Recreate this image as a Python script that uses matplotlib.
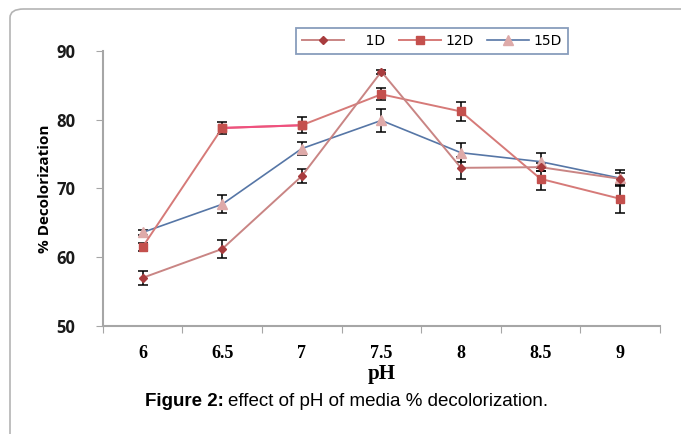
import numpy as np
import matplotlib
matplotlib.use('Agg')
import matplotlib.pyplot as plt
from matplotlib.lines import Line2D
from matplotlib.patches import FancyBboxPatch

# data
ph_labels = ['6', '6.5', '7', '7.5', '8', '8.5', '9']
d1 = [57.0, 61.2, 71.8, 87.0, 73.0, 73.1, 71.4]
d1_err = [1.0, 1.3, 1.0, 0.3, 1.6, 0.6, 0.8]
d12 = [61.5, 78.8, 79.2, 83.7, 81.2, 71.4, 68.5]
d12_err = [0.6, 0.9, 1.2, 0.9, 1.4, 1.6, 2.0]
d15 = [63.6, 67.7, 75.8, 79.9, 75.2, 73.9, 71.5]
d15_err = [0.3, 1.3, 0.9, 1.7, 1.4, 1.3, 1.2]

x = np.arange(len(ph_labels))

fig = plt.figure(figsize=(6.81, 4.34), dpi=100)
ax = fig.add_axes([0.151, 0.249, 0.818, 0.6335])

# outer frame (rounded, runs off right/bottom)
frame = FancyBboxPatch((10/681, 1-(434+30)/434), 700/681, (434+30-9)/434,
                       boxstyle='round,pad=0,rounding_size=0.02',
                       transform=fig.transFigure, fill=False,
                       edgecolor='#b4b4b4', lw=1.2, clip_on=False)
fig.patches.append(frame)

ekw = dict(ecolor='black', elinewidth=1.1, capsize=3.5, capthick=1.1, zorder=2)
ax.errorbar(x, d12, yerr=d12_err, fmt='none', **ekw)
ax.errorbar(x, d15, yerr=d15_err, fmt='none', **ekw)
ax.errorbar(x, d1, yerr=d1_err, fmt='none', **ekw)

ax.plot(x, d15, color='#5676a6', lw=1.2, marker='^', ms=6.5,
        mfc='#deaaa9', mec='#deaaa9', zorder=3)
ax.plot(x, d12, color='#d67a78', lw=1.4, marker='s', ms=5.8,
        mfc='#c4504d', mec='#c4504d', zorder=3)
ax.plot(x[1:3], d12[1:3], color='#f0507f', lw=1.5, zorder=3.1)
ax.plot(x[1:3], d12[1:3], ls='none', marker='s', ms=5.8,
        mfc='#c4504d', mec='#c4504d', zorder=3.2)
ax.plot(x, d1, color='#c98584', lw=1.4, marker='D', ms=4.2,
        mfc='#a83c3e', mec='#a83c3e', zorder=4)

ax.set_xlim(-0.5, 6.5)
ax.set_ylim(50, 90)
ax.set_yticks([50, 60, 70, 80, 90])
ax.set_xticks(np.arange(-0.5, 7, 1))
ax.set_xticklabels([])
ax.set_xticks(x, minor=True)
ax.set_xticklabels(ph_labels, minor=True, fontfamily='Liberation Serif',
                   fontweight='bold', fontsize=13)
ax.tick_params(axis='x', which='minor', length=0, pad=14)
ax.tick_params(axis='x', which='major', length=5, color='#a6a6a6', direction='out')
ax.tick_params(axis='y', length=5, color='#a6a6a6', direction='out', pad=15)
for lab in ax.get_yticklabels():
    lab.set_fontfamily('Open Sans')
    lab.set_fontweight('bold')
    lab.set_fontsize(12)
    lab.set_color('#1a1a1a')

for s in ['top', 'right']:
    ax.spines[s].set_visible(False)
for s in ['left', 'bottom']:
    ax.spines[s].set_color('#a6a6a6')
    ax.spines[s].set_linewidth(1.5)

ax.set_xlabel('pH', fontfamily='Liberation Serif', fontweight='bold',
              fontsize=15, labelpad=1)
ax.set_ylabel('% Decolorization', fontfamily='Open Sans', fontweight='bold',
              fontsize=11, labelpad=3)

handles = [
    Line2D([], [], color='#c98584', lw=1.4, marker='D', ms=4.2,
           mfc='#a83c3e', mec='#a83c3e'),
    Line2D([], [], color='#d67a78', lw=1.4, marker='s', ms=5.8,
           mfc='#c4504d', mec='#c4504d'),
    Line2D([], [], color='#5676a6', lw=1.2, marker='^', ms=6.5,
           mfc='#deaaa9', mec='#deaaa9'),
]
leg = fig.legend(handles, ['    1D', '12D', '15D'], loc='center',
                 bbox_to_anchor=(432/681, 1-41/434), ncol=3, frameon=True,
                 fancybox=False, handlelength=3.0, handletextpad=0.3,
                 columnspacing=1.0, borderpad=0.45, borderaxespad=0,
                 prop={'family': 'DejaVu Sans', 'size': 10})
leg.get_frame().set_edgecolor('#6a84ac')
leg.get_frame().set_linewidth(1.3)

fig.text(145/681, 1-402/434, 'Figure 2:', ha='left', va='center',
         fontsize=13.5, fontweight='bold', fontfamily='Liberation Sans')
fig.text(228/681, 1-402/434, 'effect of pH of media % decolorization.',
         ha='left', va='center', fontsize=13.5, fontfamily='Liberation Sans')

fig.savefig('out.png', dpi=100)
